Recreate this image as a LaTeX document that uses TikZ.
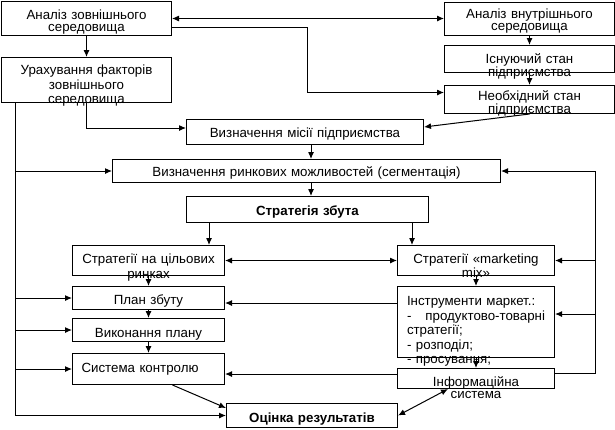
\documentclass[tikz,border=0pt]{standalone}
\usepackage{fontspec}
\setmainfont{Liberation Sans}
\usetikzlibrary{arrows.meta}

\begin{document}
\begin{tikzpicture}[>={Latex[length=7pt,width=6pt]},x=1pt,y=-1pt,line width=1pt,
    font=\fontsize{13.3}{14}\selectfont,
    box/.style 2 args={draw,inner sep=0pt,anchor=north west,align=center,
        minimum width=#1,text width=#1,minimum height=#2},
    lead/.style={font=\fontsize{13.3}{#1}\selectfont},
    sink/.style={text height=#1,text depth=0pt},
    lift/.style={text height=0pt,text depth=#1}]
    \useasboundingbox (0,0) rectangle (615,429);
    % boxes
    \node[box={170pt}{34pt},lead=12,sink=2pt] (ext) at (1,1) {Аналіз зовнішнього\\середовища};
    \node[box={170pt}{45pt},lead=14.5,lift=11pt] (fact) at (1,57) {Урахування факторів\\зовнішнього\\середовища};
    \node[box={170pt}{33pt},lead=12,lift=1pt] (int) at (444,2) {Аналіз внутрішнього\\середовища};
    \node[box={170pt}{27pt},lead=13,sink=9pt] (cur) at (444,45) {Існуючий стан\\підприємства};
    \node[box={170pt}{28pt},lead=13,sink=2pt] (need) at (444,85) {Необхідний стан\\підприємства};
    \node[box={237pt}{25pt},sink=10pt] (mis) at (186,119) {Визначення місії підприємства};
    \node[box={388pt}{23pt},sink=11pt] (opp) at (112,159) {Визначення ринкових можливостей (сегментація)};
    \node[box={242pt}{26pt},sink=12pt,font=\fontsize{13.3}{14}\selectfont\bfseries] (str) at (186,196) {Стратегія збута};
    \node[box={152pt}{30pt},lead=15,sink=6pt] (tgt) at (72,245) {Стратегії на цільових\\ринках};
    \node[box={157pt}{30pt},lead=14,sink=6pt] (mix) at (397,245) {Стратегії «marketing\\mix»};
    \node[box={152pt}{23pt},sink=13pt] (plan) at (72,286) {План збуту};
    \node[box={152pt}{23pt},sink=15pt] (exec) at (72,318) {Виконання плану};
    \node[box={152pt}{31pt},sink=6pt,align=left,text width=134pt] (ctrl) at (72,353) {Система контролю};
    \node[box={171pt}{24pt},sink=13pt,font=\fontsize{13.3}{14}\selectfont\bfseries] (res) at (226,403) {Оцінка результатів};
    \node[box={157pt}{71pt},lead=14.5,lift=33pt,align=left,text width=138pt] (tool) at (397,286)
        {Інструменти маркет.:\\-\hfill продуктово-товарні\\стратегії;\\- розподіл;\\- просування;};
    \node[box={157pt}{20pt},lead=12,sink=16pt] (info) at (397,368) {Інформаційна\\система};
    % bend points
    \coordinate (jog) at (307,27);
    \coordinate (rail) at (15,0);
    \coordinate (mid) at (311,0);
    \coordinate (sl) at (209,0);
    \coordinate (sr) at (412,0);
    \coordinate (rt) at (595,0);
    \coordinate (lp) at (0,303);
    \coordinate (lt) at (0,314);
    \coordinate (lc) at (0,374);
    % connectors
    \draw[<->] (ext.east) -- (ext.east -| int.west);
    \draw[->] (jog -| ext.east) -- (jog) |- ([yshift=7pt]need.west);
    \draw[->] (ext) -- (fact);
    \draw[->] (int) -- (cur);
    \draw[->] (cur) -- (need);
    \draw[->] (need.south) -- ([yshift=5pt]mis.east);
    \draw[->] (fact.south) |- ([yshift=4pt]mis.west);
    \draw[->] (rail |- fact.south) |- (res.west);
    \foreach \n in {opp,plan,exec,ctrl}
        \draw[->] (rail |- fact.south) |- (\n.west);
    \draw[->] (mid |- mis.south) -- (mid |- opp.north);
    \draw[->] (mid |- opp.south) -- (mid |- str.north);
    \draw[->] (sl |- str.south) -- (sl |- tgt.north);
    \draw[->] (sr |- str.south) -- (sr |- mix.north);
    \draw[<->] (tgt) -- (mix);
    \draw[->] ([yshift=5pt]info.east) -| (rt |- opp.east) -- (opp.east);
    \draw[->] (rt |- mix.east) -- (mix.east);
    \draw[->] (rt |- lt) -- (lt -| tool.east);
    \draw[->] (mix) -- (tool);
    \draw[->] (tool) -- (info);
    \draw[->] (tgt) -- (plan);
    \draw[->] (plan) -- (exec);
    \draw[->] (exec) -- (ctrl);
    \draw[->] (lp -| tool.west) -- (lp -| plan.east);
    \draw[->] (lc -| info.west) -- (lc -| ctrl.east);
    \draw[->] ([xshift=24pt]ctrl.south) -- ([yshift=-5pt]res.north west);
    \draw[<->] ([xshift=-28pt]info.south) -- (res.east);
\end{tikzpicture}
\end{document}
